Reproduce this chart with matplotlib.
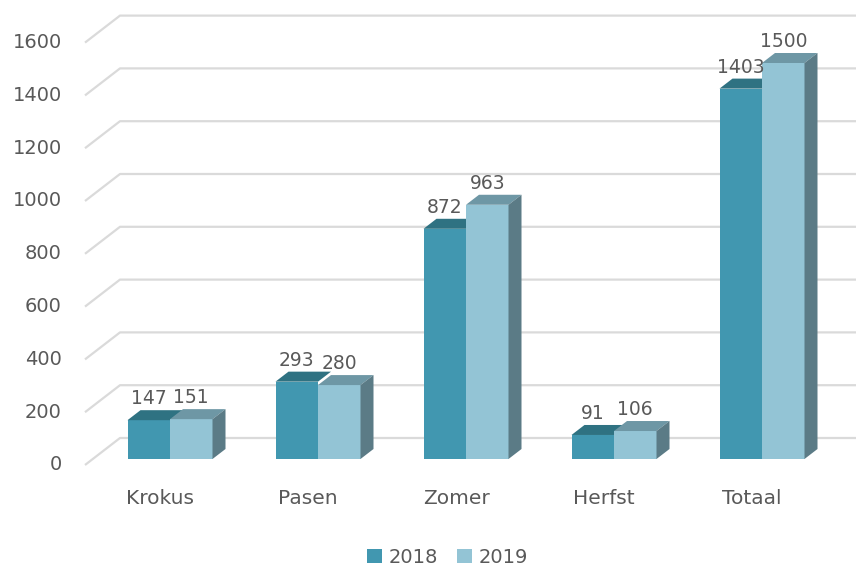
import matplotlib
matplotlib.use("Agg")
import matplotlib.pyplot as plt
from matplotlib.patches import Polygon, Patch

categories = ["Krokus", "Pasen", "Zomer", "Herfst", "Totaal"]
series_names = ["2018", "2019"]
values_2018 = [147, 293, 872, 91, 1403]
values_2019 = [151, 280, 963, 106, 1500]
yticks = [0, 200, 400, 600, 800, 1000, 1200, 1400, 1600]

# colours
front_cols = ["#4197B0", "#93C4D5"]
top_cols = ["#2F7282", "#6E97A5"]
side_col = "#5B7B86"
grid_col = "#DADADA"
text_col = "#595959"

# layout: pixel scale of the chart frame
W, H = 856, 567
PX_PER_CAT = 148.0
PX_PER_UNIT = 0.264
X0_PX = 170.0      # pixel x of category 0 centre (bar plane)
Y0_PX = 459.0      # pixel y of value 0 (bar plane, from top)

def px_x(p):
    return p / PX_PER_CAT

def px_y(p):
    return p / PX_PER_UNIT

fig = plt.figure(figsize=(W / 100, H / 100), dpi=100)
ax = fig.add_axes([0, 0, 1, 1])
ax.set_xlim(-X0_PX / PX_PER_CAT, (W - X0_PX) / PX_PER_CAT)
ax.set_ylim(-(H - Y0_PX) / PX_PER_UNIT, Y0_PX / PX_PER_UNIT)
ax.axis("off")

# gridlines (front edge -> back wall -> right)
wall_x = px_x(93 - X0_PX)
f_dx, f_dy = px_x(-8), -px_y(6)
b_dx, b_dy = px_x(27), px_y(21)
xmax = ax.get_xlim()[1]
for v in yticks:
    ax.plot([wall_x + f_dx, wall_x + b_dx, xmax],
            [v + f_dy, v + b_dy, v + b_dy],
            color=grid_col, lw=1.6, solid_capstyle="butt", zorder=1)
    ax.text(px_x(62 - X0_PX), v + f_dy, str(v), ha="right", va="center",
            fontsize=14, color=text_col, zorder=5)

# bars
bw = px_x(42.5)
d_dx, d_dy = px_x(13), px_y(10)
series = [values_2018, values_2019]
for i, cat in enumerate(categories):
    for s, vals in enumerate(series):
        v = vals[i]
        xl = i - bw + s * bw
        xr = xl + bw
        ax.add_patch(Polygon([(xl, 0), (xl, v), (xr, v), (xr, 0)], closed=True,
                             facecolor=front_cols[s], edgecolor="none", zorder=3))
        ax.add_patch(Polygon([(xl, v), (xl + d_dx, v + d_dy), (xr + d_dx, v + d_dy), (xr, v)],
                             closed=True, facecolor=top_cols[s], edgecolor="none", zorder=3))
        if s == 1:
            ax.add_patch(Polygon([(xr, 0), (xr, v), (xr + d_dx, v + d_dy), (xr + d_dx, d_dy)],
                                 closed=True, facecolor=side_col, edgecolor="none", zorder=3))
        ax.annotate(str(v), xy=((xl + xr) / 2, v), xytext=(0, 11.5),
                    textcoords="offset points", ha="center", va="baseline",
                    fontsize=13.5, color=text_col, zorder=6)
    ax.text(i + px_x(-10), -px_y(40), cat, ha="center", va="center",
            fontsize=14.5, color=text_col, zorder=5)

handles = [Patch(facecolor=front_cols[0], edgecolor="none"),
           Patch(facecolor=front_cols[1], edgecolor="none")]
leg = fig.legend(handles, series_names, loc="center", bbox_to_anchor=(0.523, 0.017),
                 ncol=2, frameon=False, fontsize=14, handlelength=0.75, handleheight=0.75,
                 handletextpad=0.35, columnspacing=1.0, borderaxespad=0)
for t in leg.get_texts():
    t.set_color(text_col)

fig.savefig("out.png", dpi=100)
